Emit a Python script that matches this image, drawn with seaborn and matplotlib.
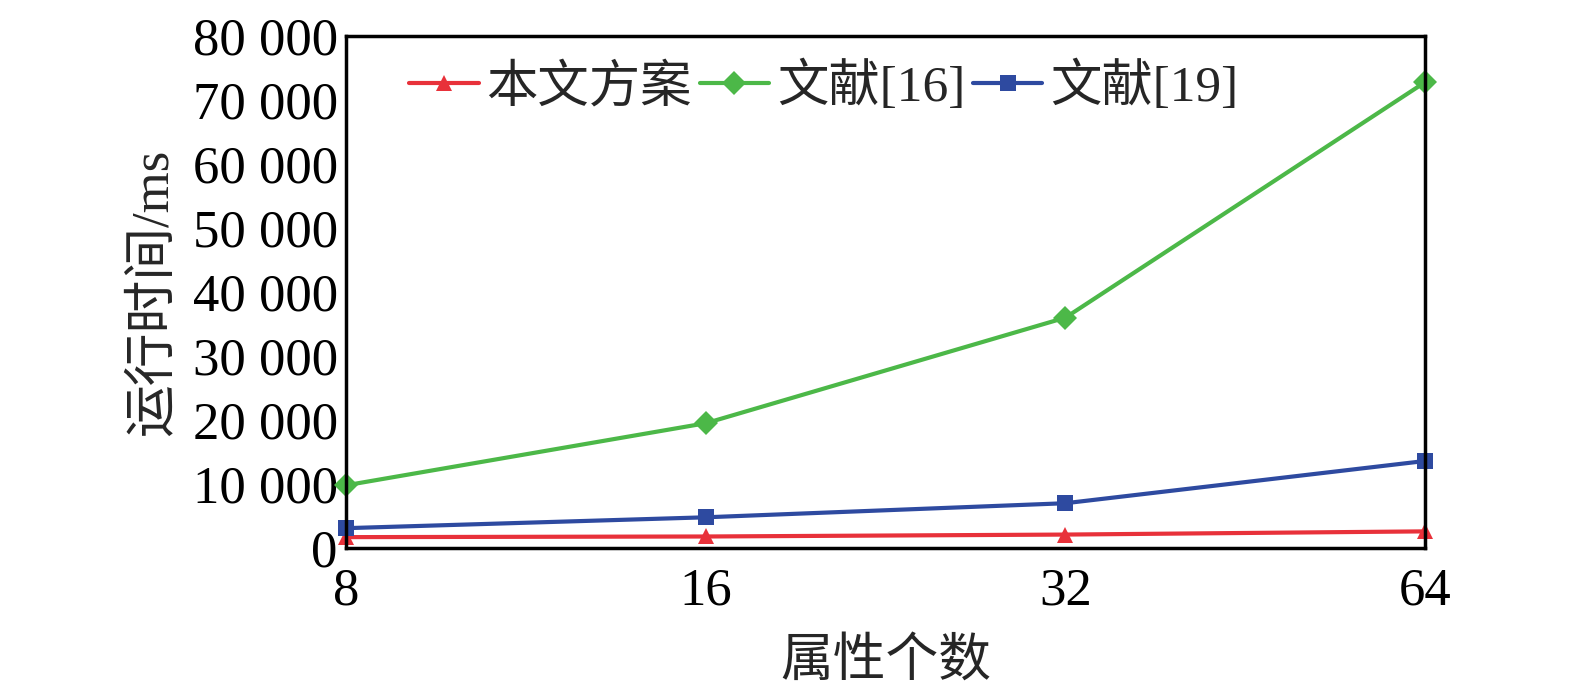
import pandas as pd
import matplotlib.pyplot as plt
import matplotlib.ticker as mticker
import seaborn as sns

sns.set_theme(style="white")
plt.rcParams['font.family'] = ['Liberation Serif', 'Noto Sans CJK SC']
plt.rcParams['axes.unicode_minus'] = False

# 数据
attr_counts = ['8', '16', '32', '64']
series_names = ['本文方案', '文献[16]', '文献[19]']
ours = [1700, 1800, 2100, 2600]
ref16 = [9800, 19500, 36000, 72800]
ref19 = [3100, 4800, 7000, 13600]
colores = ['#e8313a', '#4cb848', '#2e4aa0']
marcadores = ['^', 'D', 's']

df = pd.DataFrame({
    'x': attr_counts * 3,
    'y': ours + ref16 + ref19,
    'serie': [s for s in series_names for _ in attr_counts],
})

fig = plt.figure(figsize=(15.75, 6.95), dpi=100)
ax = fig.add_axes([0.2197, 0.2115, 0.6851, 0.7365])

sns.lineplot(data=df, x='x', y='y', hue='serie', style='serie',
             palette=colores, markers=marcadores, dashes=False,
             markersize=12, linewidth=3, markeredgewidth=0, ax=ax,
             clip_on=False)

ax.set_xlim(0, 3)
ax.set_ylim(0, 80000)
ax.yaxis.set_major_locator(mticker.MultipleLocator(10000))
ax.yaxis.set_major_formatter(mticker.FuncFormatter(
    lambda v, p: '0' if v == 0 else f"{int(v):,}".replace(',', ' ')))

ax.tick_params(axis='both', direction='in', labelsize=38, length=8, width=2,
               colors='black')
ax.tick_params(axis='x', pad=14)
ax.tick_params(axis='y', pad=6)
for s in ax.spines.values():
    s.set_color('black')
    s.set_linewidth(2.5)

ax.set_xlabel('属性个数', fontsize=38, labelpad=16)
ax.set_ylabel('运行时间/ms', fontsize=38, labelpad=10)

ax.legend(loc='upper left', bbox_to_anchor=(0.035, 1.0), ncol=3, frameon=False,
          fontsize=37, handlelength=1.35, handletextpad=0.15, columnspacing=0.15,
          borderaxespad=0.1, markerscale=1.0)

plt.savefig('out.png', dpi=100)
plt.close()
